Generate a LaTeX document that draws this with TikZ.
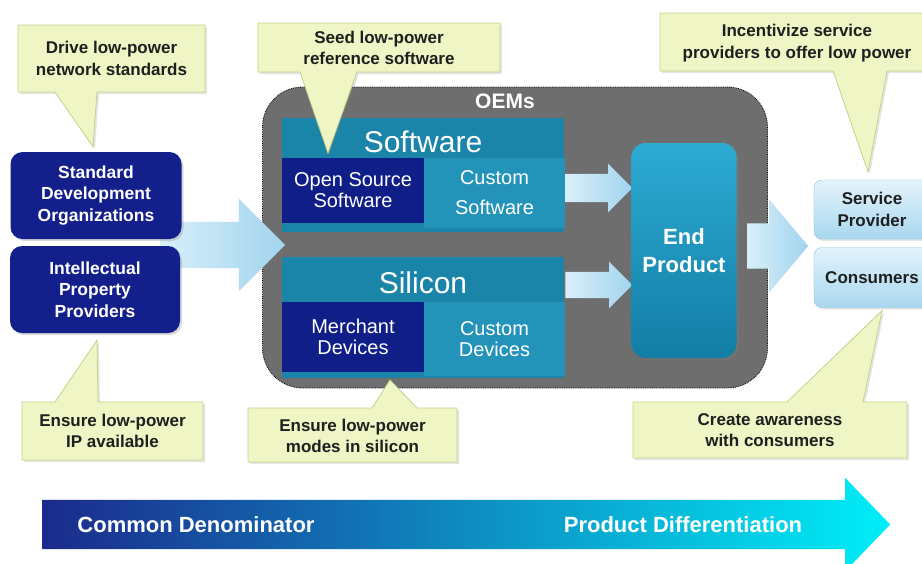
\documentclass[tikz,border=0pt]{standalone}
\usepackage{fontspec}
\setmainfont{Liberation Sans}
\usetikzlibrary{calc,positioning,shapes.arrows,shadows}

\definecolor{callfill}{HTML}{EFF5C4}
\definecolor{callline}{HTML}{C6D28A}
\definecolor{navy}{HTML}{13208C}
\definecolor{oemgray}{HTML}{6E6E6E}
\definecolor{tealband}{HTML}{1A85A9}
\definecolor{tealcell}{HTML}{2493BA}
\definecolor{osblue}{HTML}{101E88}
\definecolor{endtop}{HTML}{2DABD3}
\definecolor{endbot}{HTML}{127DA5}
\definecolor{paleL}{HTML}{D8EFFA}
\definecolor{paleR}{HTML}{A2D4EE}
\definecolor{spTop}{HTML}{E4F3FB}
\definecolor{spBot}{HTML}{A8D7EF}
\definecolor{spLine}{HTML}{8CC3DD}
\definecolor{barL}{HTML}{1B2A8C}
\definecolor{barM}{HTML}{0A88BC}
\definecolor{barR}{HTML}{00EEF7}

\begin{document}
\begin{tikzpicture}[x=1pt,y=-1pt,
    callout/.style={fill=callfill, draw=callline, line width=0.8pt,
      drop shadow={opacity=0.2, shadow xshift=2pt, shadow yshift=-2pt}},
    calltext/.style={font=\bfseries\fontsize{17}{21.5}\selectfont, text=black!88,
      align=center, inner sep=0pt},
    orgbox/.style={fill=navy, rounded corners=12pt, minimum width=171pt,
      minimum height=87pt, text=white, align=center, inner sep=0pt,
      font=\bfseries\fontsize{17.5}{21.5}\selectfont,
      drop shadow={opacity=0.3, shadow xshift=2pt, shadow yshift=-2pt}},
    band/.style={fill=tealband, minimum width=282pt, inner sep=0pt},
    bandtitle/.style={text=white, inner sep=0pt, font=\fontsize{30}{32}\selectfont},
    cell/.style={text=white, align=center, inner sep=0pt,
      font=\fontsize{20}{21}\selectfont},
    blockarrow/.style={single arrow, draw=none, inner xsep=0pt, anchor=tail,
      left color=paleL, right color=paleR},
    svcbox/.style={top color=spTop, bottom color=spBot, draw=spLine,
      rounded corners=8pt, minimum width=116pt, minimum height=59pt,
      align=center, inner sep=0pt, text=black!88,
      font=\bfseries\fontsize{17}{21.5}\selectfont,
      drop shadow={opacity=0.2, shadow xshift=2pt, shadow yshift=-2pt}}]

    \useasboundingbox (0,0) rectangle (922,563);
    \clip (0,0) rectangle (922,563);
    \fill[white] (0,0) rectangle (922,563);

    % OEM region
    \node[fill=oemgray, draw=black, densely dotted, thick, rounded corners=40pt,
      minimum width=505pt, minimum height=301pt] (oem) at (515,237.5) {};
    \node[text=white, inner sep=0pt, font=\bfseries\fontsize{21}{24}\selectfont]
      (oemLbl) at (505,101.5) {OEMs};

    % arrow from the left boxes into the OEMs
    \node[blockarrow, inner ysep=23pt, single arrow head extend=23pt,
      minimum height=125pt] (arrIn) at (160,245) {};

    % left boxes
    \node[orgbox] (sdo) at (96,195.5) {Standard\\Development\\Organizations};
    \node[orgbox, minimum width=170pt] (ipp) at (95,289.5) {Intellectual\\Property\\Providers};

    % software band
    \node[band, minimum height=114pt] (sw) at (423,175) {};
    \node[bandtitle] (swTitle) at (423,142) {Software};
    \node[cell, fill=osblue, minimum width=142pt, minimum height=65pt]
      (swOpen) at (353,190.5) {Open Source\\Software};
    \node[cell, fill=tealcell, minimum width=141pt, minimum height=70pt,
      font=\fontsize{20}{30}\selectfont] (swCust) at (494.5,193) {Custom\\Software};

    % silicon band
    \node[band, minimum height=121pt] (si) at (423,317.5) {};
    \node[bandtitle] (siTitle) at (423,283) {Silicon};
    \node[cell, fill=osblue, minimum width=142pt, minimum height=70pt]
      (siMerch) at (353,337) {Merchant\\Devices};
    \node[cell, fill=tealcell, minimum width=141pt, minimum height=74pt]
      (siCust) at (494.5,339) {Custom\\Devices};

    % arrows into the end product
    \node[blockarrow, inner ysep=14pt, single arrow head extend=10pt,
      minimum height=67pt] (arrSw) at (swCust.east |- 0,188) {};
    \node[blockarrow, inner ysep=13pt, single arrow head extend=10pt,
      minimum height=67pt] (arrSi) at (siCust.east |- 0,285) {};

    % end product
    \node[top color=endtop, bottom color=endbot, rounded corners=14pt,
      minimum width=105pt, minimum height=215pt, text=white, align=center,
      font=\bfseries\fontsize{22}{28}\selectfont,
      drop shadow={opacity=0.3, shadow xshift=2pt, shadow yshift=-2pt}]
      (endp) at (684,250.5) {End\\Product};

    % arrow out to the market
    \node[blockarrow, inner ysep=22.5pt, single arrow head extend=24pt,
      single arrow tip angle=100, minimum height=61pt] (arrOut) at (747,246) {};

    % market boxes
    \node[svcbox] (sp) at (872,209.5) {Service\\Provider};
    \node[svcbox, minimum height=60pt] (cons) at (872,277.5) {Consumers};

    % callouts
    \coordinate (tipNet) at ($(sdo.north)+(-3,-5)$);
    \draw[callout] (18,25) -- (205,25) -- (205,92) -- (97,92) -- (tipNet)
      -- (55,92) -- (18,92) -- cycle;
    \node[calltext] (cNet) at (111.5,58.5) {Drive low-power\\network standards};

    \coordinate (tipSeed) at (328,153);
    \draw[callout] (258,23) -- (500,23) -- (500,72) -- (357,72) -- (tipSeed)
      -- (300,72) -- (258,72) -- cycle;
    \node[calltext] (cSeed) at (379,48) {Seed low-power\\reference software};

    \coordinate (tipSvc) at ($(sp.north)+(-4,-8)$);
    \draw[callout] (660,13) -- (934,13) -- (934,71) -- (887,71) -- (tipSvc)
      -- (833,71) -- (660,71) -- cycle;
    \node[calltext] (cSvc) at (797,43) {Incentivize service\\providers to offer low power};

    \coordinate (tipIP) at ($(ipp.south)+(2,7)$);
    \draw[callout] (22,402) -- (55,402) -- (tipIP) -- (98,402) -- (203,402)
      -- (203,460) -- (22,460) -- cycle;
    \node[calltext] (cIP) at (112.5,431) {Ensure low-power\\IP available};

    \coordinate (tipSi) at (390,380);
    \draw[callout] (248,408) -- (372,408) -- (tipSi) -- (417,408) -- (457,408)
      -- (457,462) -- (248,462) -- cycle;
    \node[calltext] (cSi) at (352.5,436) {Ensure low-power\\modes in silicon};

    \coordinate (tipCons) at ($(cons.south)+(10,3)$);
    \draw[callout] (633,402) -- (787,402) -- (tipCons) -- (863,402) -- (907,402)
      -- (907,458) -- (633,458) -- cycle;
    \node[calltext] (cCons) at (770,430) {Create awareness\\with consumers};

    % bottom bar
    \node[single arrow, draw=none, inner xsep=0pt, anchor=tail, inner ysep=24.5pt,
      single arrow head extend=22pt, single arrow tip angle=92, minimum height=848pt,
      left color=barL, middle color=barM, right color=barR] (bar) at (42,524.5) {};
    \node[text=white, inner sep=0pt, font=\bfseries\fontsize{22}{24}\selectfont]
      (barTxtL) at (196,524.5) {Common Denominator};
    \node[text=white, inner sep=0pt, font=\bfseries\fontsize{22}{24}\selectfont]
      (barTxtR) at (683,524.5) {Product Differentiation};
\end{tikzpicture}
\end{document}
